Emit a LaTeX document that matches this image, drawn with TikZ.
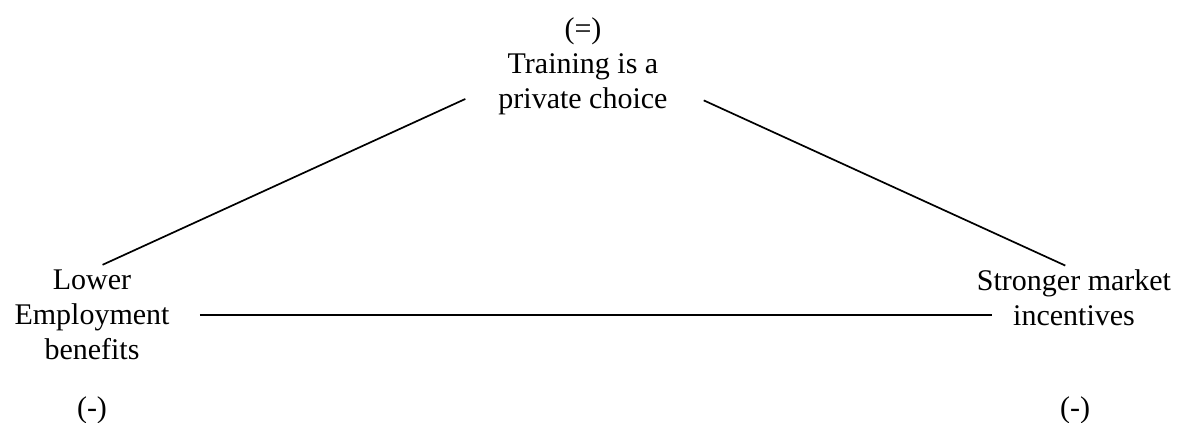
\documentclass[tikz,border=0pt]{standalone}
\usepackage{fontspec}
\setmainfont{Liberation Serif}
\usetikzlibrary{calc}

\begin{document}
\begin{tikzpicture}[x=0.5pt, y=-0.5pt,
    corner/.style={align=center, inner sep=0pt, font=\fontsize{15}{17.5}\selectfont},
    sign/.style={inner sep=0pt, font=\fontsize{15}{17.5}\selectfont},
    side line/.style={line width=0.85pt}]
    \useasboundingbox (0,0) rectangle (1179,423);

    \node[corner] (choice) at (583,84) {Training is a\\private choice};
    \node[corner] (lower) at (92,315) {Lower\\Employment\\benefits};
    \node[corner] (stronger) at (1074,298) {Stronger market\\incentives};

    \node[sign] (choicesign) at (583,31.5) {(=)};
    \node[sign] (lowersign) at (92,410) {(-)};
    \node[sign] (strongersign) at (1075,410) {(-)};

    \draw[side line, shorten <=18pt, shorten >=5.8pt] (choice.west) -- (lower.north);
    \draw[side line, shorten <=19.7pt, shorten >=4.8pt] (choice.east) -- (stronger.north);
    \draw[side line, shorten <=15pt, shorten >=41pt] (lower.east) -- (lower.east -| stronger.south);
\end{tikzpicture}
\end{document}
